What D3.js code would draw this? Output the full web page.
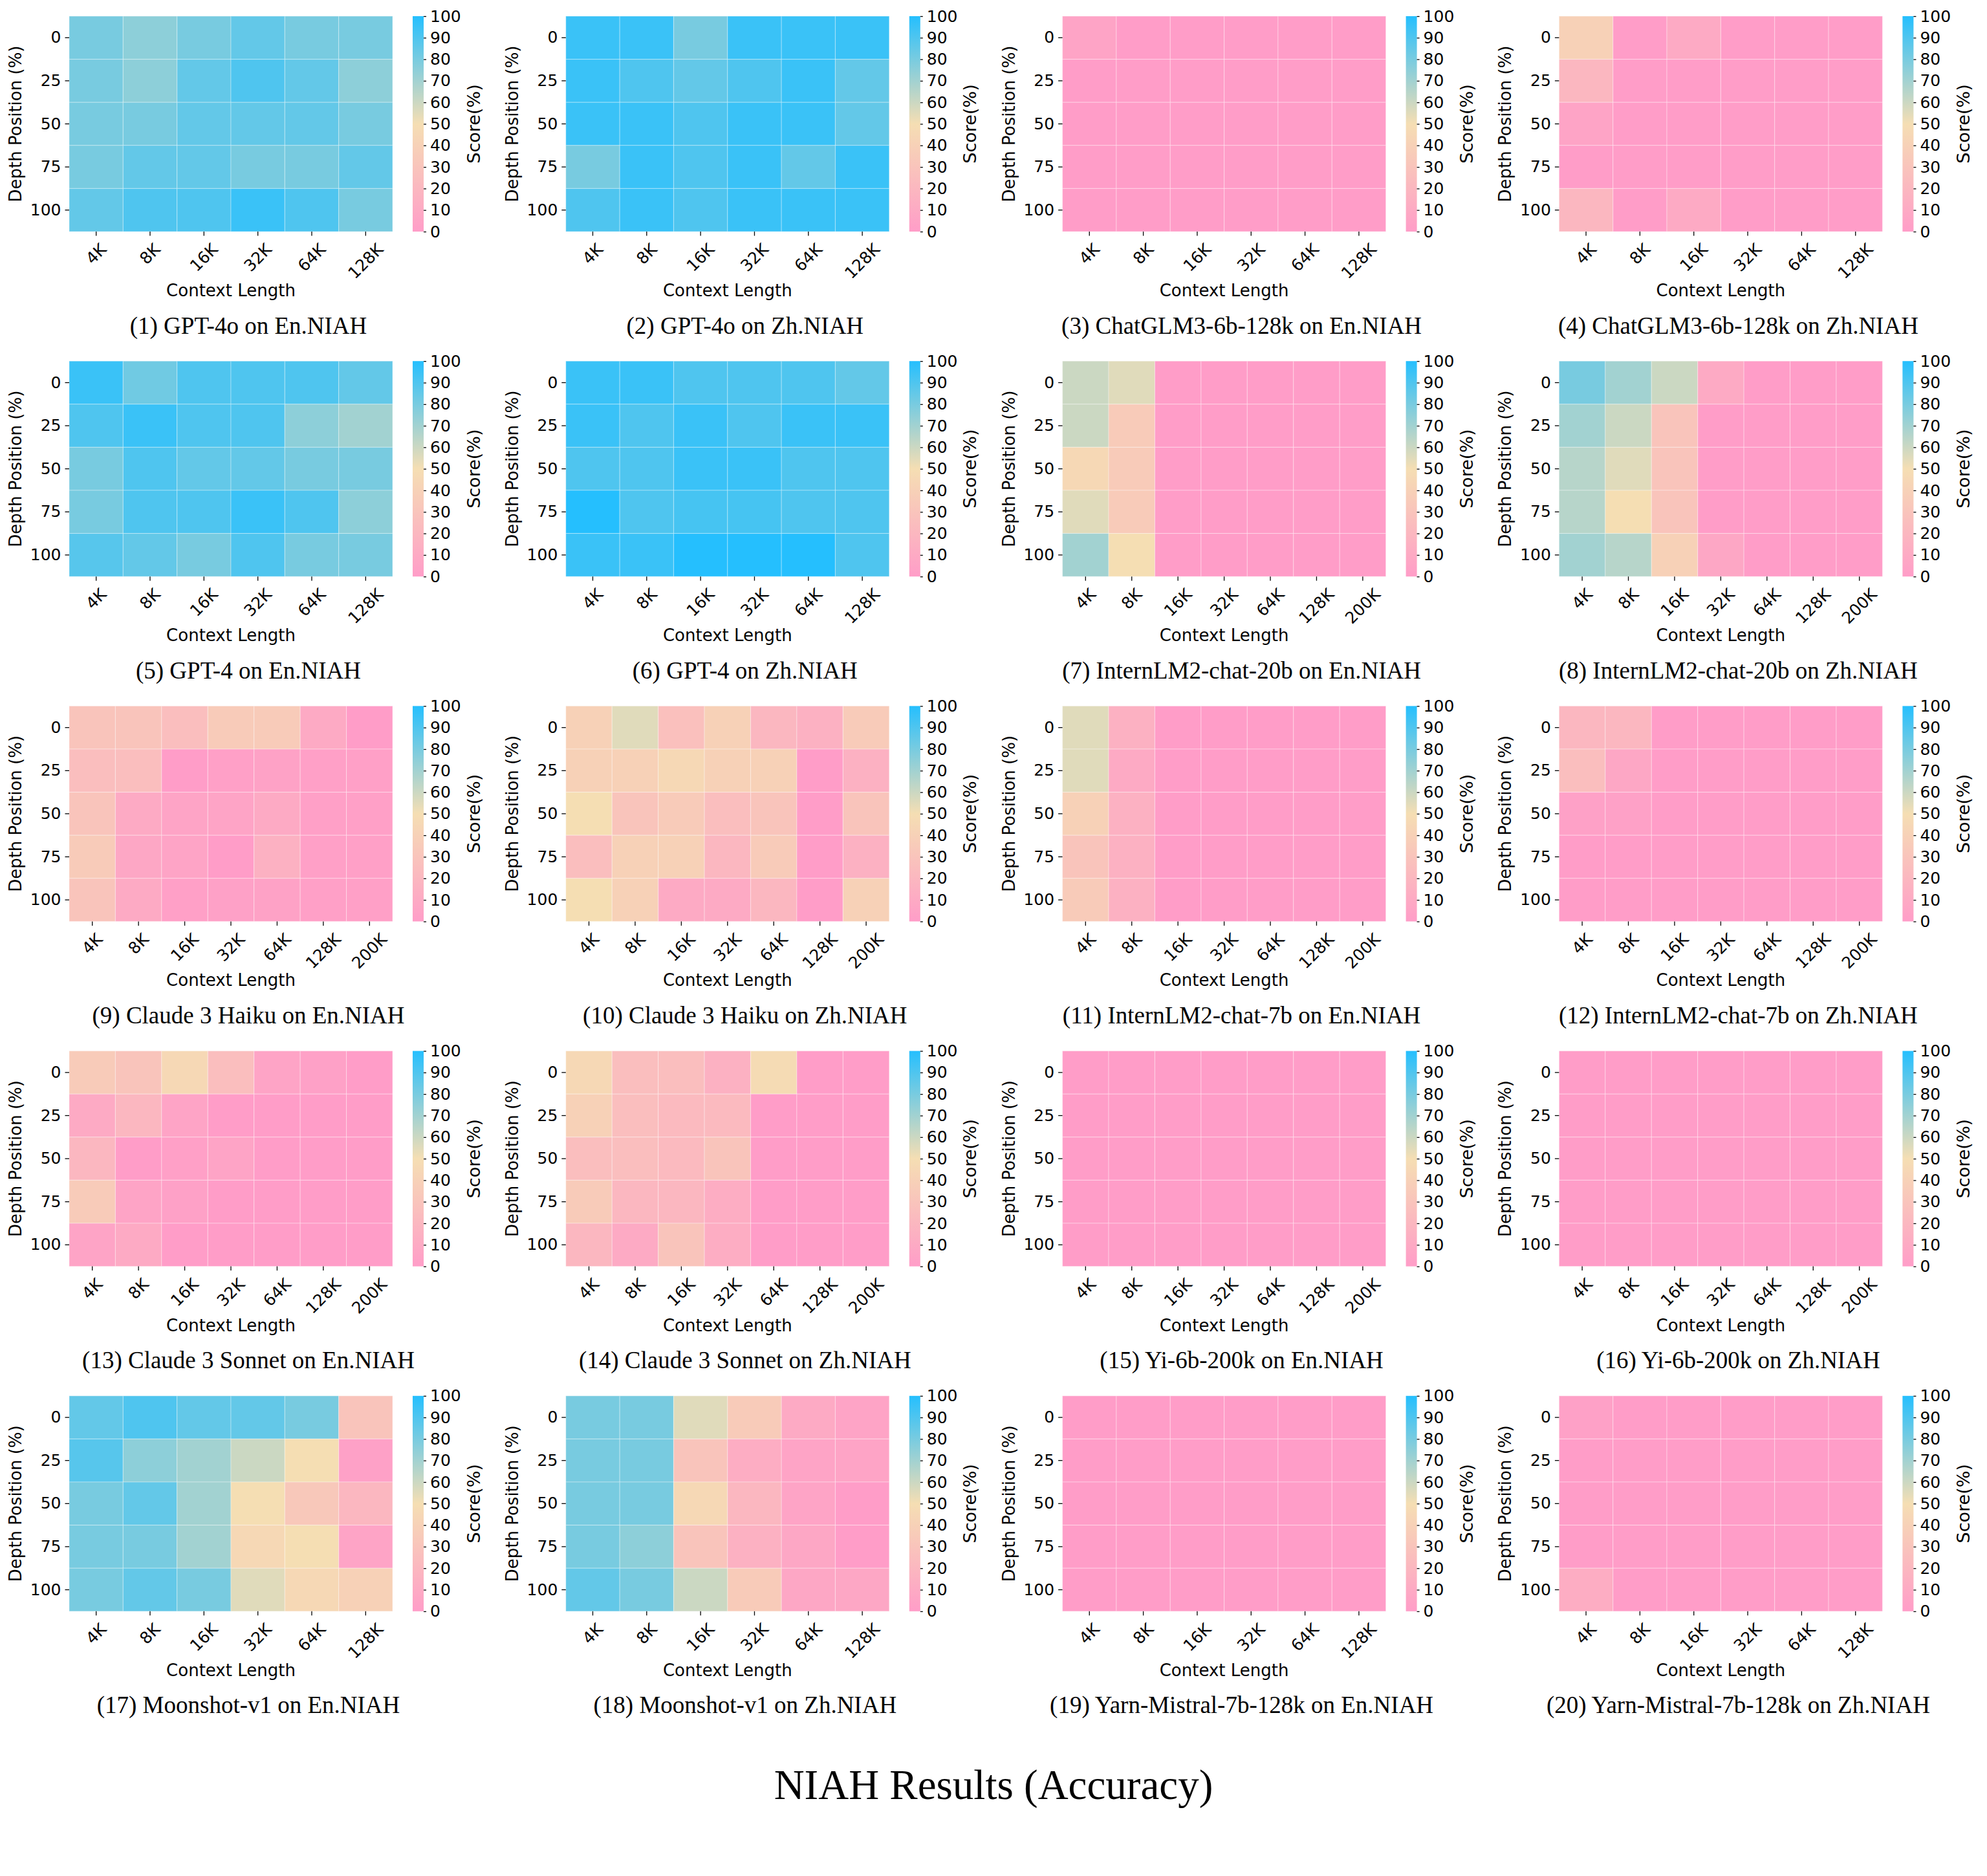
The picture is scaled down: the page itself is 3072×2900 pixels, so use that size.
<!DOCTYPE html>
<html>
<head>
<meta charset="utf-8">
<script src="https://cdn.jsdelivr.net/npm/d3@7"></script>
<style>
  body { margin: 0; background: #ffffff; }
</style>
</head>
<body>
<div id="chart"></div>
<script>
// context lengths (x) and needle depths (y)
var ctx6 = ["4K", "8K", "16K", "32K", "64K", "128K"];
var ctx7 = ["4K", "8K", "16K", "32K", "64K", "128K", "200K"];
var depths = [0, 25, 50, 75, 100];
var scoreTicks = [0, 10, 20, 30, 40, 50, 60, 70, 80, 90, 100];

var titles = [
  "(1) GPT-4o on En.NIAH", "(2) GPT-4o on Zh.NIAH",
  "(3) ChatGLM3-6b-128k on En.NIAH", "(4) ChatGLM3-6b-128k on Zh.NIAH",
  "(5) GPT-4 on En.NIAH", "(6) GPT-4 on Zh.NIAH",
  "(7) InternLM2-chat-20b on En.NIAH", "(8) InternLM2-chat-20b on Zh.NIAH",
  "(9) Claude 3 Haiku on En.NIAH", "(10) Claude 3 Haiku on Zh.NIAH",
  "(11) InternLM2-chat-7b on En.NIAH", "(12) InternLM2-chat-7b on Zh.NIAH",
  "(13) Claude 3 Sonnet on En.NIAH", "(14) Claude 3 Sonnet on Zh.NIAH",
  "(15) Yi-6b-200k on En.NIAH", "(16) Yi-6b-200k on Zh.NIAH",
  "(17) Moonshot-v1 on En.NIAH", "(18) Moonshot-v1 on Zh.NIAH",
  "(19) Yarn-Mistral-7b-128k on En.NIAH", "(20) Yarn-Mistral-7b-128k on Zh.NIAH"
];

// scores (%), one row per depth (0 -> 100), one column per context length
var gpt4oEn = [
  [80, 75, 80, 85, 80, 80],
  [80, 75, 85, 90, 85, 75],
  [80, 80, 85, 85, 85, 80],
  [80, 85, 85, 80, 80, 85],
  [85, 90, 90, 95, 90, 80]];
var gpt4oZh = [
  [95, 95, 80, 95, 95, 95],
  [95, 90, 85, 90, 95, 85],
  [95, 95, 90, 95, 95, 85],
  [80, 95, 90, 95, 85, 95],
  [90, 95, 90, 95, 95, 95]];
var chatglmEn = [
  [5, 0, 0, 0, 0, 0],
  [0, 0, 0, 0, 0, 0],
  [0, 0, 0, 0, 0, 0],
  [0, 0, 0, 0, 0, 0],
  [0, 0, 0, 0, 0, 0]];
var chatglmZh = [
  [40, 0, 10, 0, 0, 0],
  [20, 0, 0, 0, 0, 0],
  [5, 0, 0, 0, 0, 0],
  [0, 0, 0, 0, 0, 0],
  [20, 0, 10, 0, 0, 0]];
var gpt4En = [
  [95, 82, 90, 90, 90, 85],
  [90, 95, 90, 90, 75, 70],
  [80, 90, 85, 85, 80, 80],
  [80, 90, 90, 95, 90, 75],
  [88, 85, 80, 90, 80, 80]];
var gpt4Zh = [
  [95, 95, 90, 90, 90, 85],
  [95, 90, 95, 90, 95, 95],
  [90, 90, 95, 95, 90, 90],
  [100, 90, 92, 92, 90, 90],
  [95, 95, 100, 100, 100, 90]];
var intern20En = [
  [60, 55, 0, 0, 0, 0, 0],
  [60, 35, 0, 0, 0, 0, 0],
  [45, 35, 0, 0, 0, 0, 0],
  [55, 35, 0, 0, 0, 0, 0],
  [70, 50, 0, 0, 0, 0, 0]];
var intern20Zh = [
  [80, 70, 60, 10, 0, 0, 0],
  [70, 60, 30, 0, 0, 0, 0],
  [65, 55, 30, 0, 0, 0, 0],
  [65, 50, 30, 0, 0, 0, 0],
  [70, 65, 40, 8, 0, 0, 0]];
var haikuEn = [
  [30, 30, 25, 35, 35, 10, 0],
  [25, 25, 0, 2, 4, 2, 2],
  [30, 10, 5, 5, 10, 2, 2],
  [35, 8, 5, 0, 15, 2, 2],
  [30, 10, 2, 3, 4, 2, 2]];
var haikuZh = [
  [40, 55, 27, 40, 20, 15, 35],
  [40, 40, 45, 40, 40, 0, 15],
  [50, 30, 35, 25, 30, 0, 30],
  [25, 40, 40, 20, 35, 0, 15],
  [50, 40, 10, 10, 20, 0, 40]];
var intern7En = [
  [55, 15, 0, 0, 0, 0, 0],
  [55, 10, 0, 0, 0, 0, 0],
  [40, 15, 0, 0, 0, 0, 0],
  [30, 15, 0, 0, 0, 0, 0],
  [35, 15, 0, 0, 0, 0, 0]];
var intern7Zh = [
  [20, 20, 0, 0, 0, 0, 0],
  [25, 8, 0, 0, 0, 0, 0],
  [3, 3, 0, 0, 0, 0, 0],
  [0, 0, 0, 0, 0, 0, 0],
  [0, 0, 0, 0, 0, 0, 0]];
var sonnetEn = [
  [35, 30, 45, 25, 5, 3, 0],
  [10, 20, 5, 0, 0, 0, 0],
  [20, 0, 2, 5, 0, 0, 0],
  [35, 5, 3, 0, 0, 0, 0],
  [5, 10, 0, 0, 0, 0, 0]];
var sonnetZh = [
  [45, 25, 25, 15, 48, 0, 0],
  [40, 25, 22, 22, 0, 0, 0],
  [25, 25, 22, 30, 0, 0, 0],
  [35, 20, 20, 12, 0, 0, 0],
  [20, 10, 30, 12, 0, 0, 0]];
var yiEn = [
  [0, 0, 0, 0, 0, 0, 0],
  [0, 0, 0, 0, 0, 0, 0],
  [0, 0, 0, 0, 0, 0, 0],
  [0, 0, 0, 0, 0, 0, 0],
  [0, 0, 0, 0, 0, 0, 0]];
var yiZh = [
  [0, 0, 0, 0, 0, 0, 0],
  [0, 0, 0, 0, 0, 0, 0],
  [0, 0, 0, 0, 0, 0, 0],
  [0, 0, 0, 0, 0, 0, 0],
  [0, 0, 0, 0, 0, 0, 0]];
var moonEn = [
  [85, 90, 85, 85, 80, 30],
  [88, 75, 70, 60, 50, 3],
  [80, 85, 70, 50, 33, 20],
  [80, 80, 70, 45, 50, 5],
  [80, 85, 80, 55, 45, 40]];
var moonZh = [
  [80, 80, 55, 35, 10, 5],
  [80, 80, 30, 12, 5, 5],
  [80, 80, 45, 20, 5, 0],
  [80, 75, 30, 15, 8, 0],
  [85, 80, 60, 35, 8, 8]];
var yarnEn = [
  [0, 0, 0, 0, 0, 0],
  [0, 0, 0, 0, 0, 0],
  [0, 0, 0, 0, 0, 0],
  [0, 0, 0, 0, 0, 0],
  [0, 0, 0, 0, 0, 0]];
var yarnZh = [
  [3, 0, 0, 0, 0, 0],
  [0, 0, 0, 0, 0, 0],
  [0, 0, 0, 0, 0, 0],
  [0, 0, 0, 0, 0, 0],
  [12, 0, 0, 0, 0, 0]];

var panelData = [gpt4oEn, gpt4oZh, chatglmEn, chatglmZh, gpt4En, gpt4Zh,
  intern20En, intern20Zh, haikuEn, haikuZh, intern7En, intern7Zh,
  sonnetEn, sonnetZh, yiEn, yiZh, moonEn, moonZh, yarnEn, yarnZh];
var panelCtx = [ctx6, ctx6, ctx6, ctx6, ctx6, ctx6,
  ctx7, ctx7, ctx7, ctx7, ctx7, ctx7, ctx7, ctx7, ctx7, ctx7,
  ctx6, ctx6, ctx6, ctx6];

var W = 3072, H = 2900;
var colW = 767.8, rowH = 533.2, hmW = 500, hmH = 333;
var left0 = 107, top0 = 25;
var sans = "DejaVu Sans", serif = "Liberation Serif";

var svg = d3.select("#chart").append("svg")
  .attr("width", W)
  .attr("height", H)
  .style("background", "#ffffff");

var color = d3.scaleLinear()
  .domain([0, 50, 100])
  .range(["#ff9dc8", "#f5deb3", "#25bffe"]);

var grad = svg.append("defs").append("linearGradient")
  .attr("id", "cbar")
  .attr("x1", 0).attr("y1", 1).attr("x2", 0).attr("y2", 0);
[0, 50, 100].forEach(function (v) {
  grad.append("stop").attr("offset", v + "%").attr("stop-color", color(v));
});

titles.forEach(function (title, i) {
  var c = i % 4, r = Math.floor(i / 4);
  var g = svg.append("g")
    .attr("transform", "translate(" + (left0 + c * colW) + "," + (top0 + r * rowH) + ")");

  var ctx = panelCtx[i];
  var x = d3.scaleBand().domain(ctx).range([0, hmW]);
  var y = d3.scaleBand().domain(depths).range([0, hmH]);

  var cells = [];
  panelData[i].forEach(function (row, ri) {
    row.forEach(function (v, ci) { cells.push({ depth: depths[ri], ctx: ctx[ci], v: v }); });
  });

  g.selectAll("rect.cell")
    .data(cells)
    .enter().append("rect")
    .attr("class", "cell")
    .attr("x", function (d) { return x(d.ctx); })
    .attr("y", function (d) { return y(d.depth); })
    .attr("width", x.bandwidth())
    .attr("height", y.bandwidth())
    .attr("fill", function (d) { return color(d.v); })
    .attr("stroke", "rgba(255,255,255,0.3)")
    .attr("stroke-width", 1.2);

  // y axis
  var ya = g.append("g")
    .call(d3.axisLeft(y).tickSize(6.5).tickPadding(6));
  ya.select(".domain").remove();
  ya.attr("font-family", sans).attr("font-size", 25).attr("color", "#000");
  ya.selectAll("line").attr("stroke-width", 1.3);

  // x axis, labels turned 45 degrees
  var xa = g.append("g")
    .attr("transform", "translate(0," + hmH + ")")
    .call(d3.axisBottom(x).tickSize(6.5));
  xa.select(".domain").remove();
  xa.attr("font-family", sans).attr("font-size", 25).attr("color", "#000");
  xa.selectAll("line").attr("stroke-width", 1.3);
  xa.selectAll("text")
    .attr("y", null)
    .attr("dy", null)
    .attr("text-anchor", "middle")
    .attr("dominant-baseline", "central")
    .attr("transform", function () {
      var w = this.getComputedTextLength();
      var cy = 13 + (w + 29) / (2 * Math.SQRT2);
      return "translate(0," + cy + ") rotate(-45)";
    });

  // colorbar
  var cbx = 531, cbw = 17;
  g.append("rect")
    .attr("x", cbx).attr("y", 0)
    .attr("width", cbw).attr("height", hmH)
    .attr("fill", "url(#cbar)");
  var cs = d3.scaleLinear().domain([0, 100]).range([hmH, 0]);
  var ca = g.append("g")
    .attr("transform", "translate(" + (cbx + cbw) + ",0)")
    .call(d3.axisRight(cs).tickValues(scoreTicks).tickSize(4).tickPadding(6));
  ca.select(".domain").remove();
  ca.attr("font-family", sans).attr("font-size", 25).attr("color", "#000");
  ca.selectAll("line").attr("stroke-width", 1.3);

  g.append("text")
    .attr("transform", "translate(625," + (hmH / 2) + ") rotate(-90)")
    .attr("text-anchor", "middle")
    .attr("dominant-baseline", "central")
    .attr("font-family", sans)
    .attr("font-size", 27)
    .text("Score(%)");

  g.append("text")
    .attr("transform", "translate(-83," + (hmH / 2) + ") rotate(-90)")
    .attr("text-anchor", "middle")
    .attr("dominant-baseline", "central")
    .attr("font-family", sans)
    .attr("font-size", 26)
    .text("Depth Position (%)");

  g.append("text")
    .attr("x", hmW / 2)
    .attr("y", hmH + 91)
    .attr("text-anchor", "middle")
    .attr("dominant-baseline", "central")
    .attr("font-family", sans)
    .attr("font-size", 26)
    .text("Context Length");

  g.append("text")
    .attr("x", 384 - left0)
    .attr("y", hmH + 145)
    .attr("text-anchor", "middle")
    .attr("dominant-baseline", "central")
    .attr("font-family", serif)
    .attr("font-size", 37)
    .text(title);
});

svg.append("text")
  .attr("x", W / 2)
  .attr("y", 2759)
  .attr("text-anchor", "middle")
  .attr("dominant-baseline", "central")
  .attr("font-family", serif)
  .attr("font-size", 65)
  .text("NIAH Results (Accuracy)");
</script>
</body>
</html>
